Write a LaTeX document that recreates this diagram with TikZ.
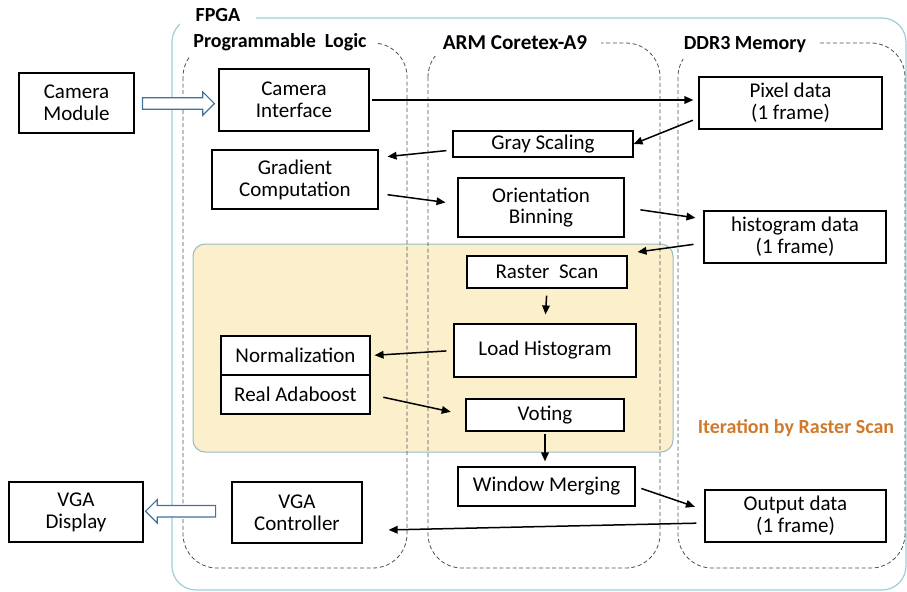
\documentclass[tikz,border=0pt]{standalone}
\usepackage{fontspec}
\setmainfont{Carlito}
\usepackage{tikz}
\usetikzlibrary{arrows.meta, calc, shapes.arrows}

\definecolor{fpgablue}{RGB}{160,203,218}
\definecolor{loopfill}{RGB}{252,240,204}
\definecolor{loopline}{RGB}{150,186,196}
\definecolor{regiongray}{RGB}{70,80,95}
\definecolor{blockblue}{RGB}{65,113,156}
\definecolor{iterorange}{RGB}{208,122,46}

\tikzset{
    box/.style={draw, line width=0.6pt, fill=white, align=center, inner sep=0pt,
        font=\fontsize{10.5}{10.9}\selectfont},
    region/.style={draw=regiongray, line width=0.4pt, dash pattern=on 2pt off 1.3pt,
        rounded corners=17pt},
    title/.style={fill=white, inner ysep=3pt, font=\bfseries\fontsize{10}{12}\selectfont},
    arr/.style={line width=0.75pt, -{Triangle[length=4.5pt,width=3.8pt]}},
    bigarrow/.style={single arrow, draw=blockblue, fill=white, line width=0.6pt,
        inner sep=2.6pt, single arrow head extend=2.9pt, minimum height=36pt}
}

\begin{document}
\begin{tikzpicture}[x=0.5pt, y=-0.5pt]
            \useasboundingbox (0,0) rectangle (907,591);
            % FPGA frame and the loop area
            \draw[fpgablue, line width=0.6pt, rounded corners=12pt] (172,18) rectangle (906,590);
            \draw[loopline, fill=loopfill, line width=0.5pt, rounded corners=6pt] (193,244) rectangle (673,452);
            \draw[region] (183,43) rectangle (407,568);
            \draw[region] (428,43) rectangle (660,568);
            \draw[region] (678,43) rectangle (905,568);
            \node (fpga) at (218,15) [title, inner xsep=8pt] {FPGA};
            \node (pl) at (280,42) [title, inner xsep=5pt] {Programmable\ \ Logic};
            \node (arm) at (515,43) [title, inner xsep=7pt, font=\bfseries\fontsize{10.6}{12}\selectfont] {ARM Coretex-A9};
            \node (ddr) at (745,45) [title, inner xsep=6pt] {DDR3 Memory};
            \node (iter) at (796,428) [font=\bfseries\fontsize{10}{12}\selectfont, text=iterorange] {Iteration by Raster Scan};

            % blocks
            \node (cam) at (76.5,103) [box, minimum width=57.5pt, minimum height=30pt] {Camera\\Module};
            \node (camif) at (294,100) [box, minimum width=75pt, minimum height=31pt] {Camera\\Interface};
            \node (pix) at (790.5,103) [box, minimum width=91.5pt, minimum height=26pt] {Pixel data\\(1 frame)};
            \node (gray) at (543,144) [box, minimum width=90pt, minimum height=13pt] {Gray Scaling};
            \node (grad) at (295,179.5) [box, minimum width=83pt, minimum height=29.5pt] {Gradient\\Computation};
            \node (orient) at (541,207.5) [box, minimum width=83pt, minimum height=29.5pt] {Orientation\\Binning};
            \node (hist) at (795,237) [box, minimum width=91pt, minimum height=26pt] {histogram data\\(1 frame)};
            \node (raster) at (547,272) [box, minimum width=80pt, minimum height=16pt] {Raster\ \ Scan};
            \node (load) at (545,350.5) [box, minimum width=91pt, minimum height=26.5pt] {Load Histogram};
            \node (norm) at (295.5,355.5) [box, minimum width=74.5pt, minimum height=19.5pt] {Normalization};
            \node (ada) at (295.5,394.5) [box, minimum width=74.5pt, minimum height=19.5pt] {Real Adaboost};
            \node (vote) at (545,415) [box, minimum width=79pt, minimum height=16pt] {Voting};
            \node (merge) at (546.5,486.5) [box, minimum width=88.5pt, minimum height=19.5pt] {Window Merging};
            \node (out) at (795.5,516) [box, minimum width=90.5pt, minimum height=26pt] {Output data\\(1 frame)};
            \node (vgadisp) at (76,512) [box, minimum width=67pt, minimum height=30pt] {VGA\\Display};
            \node (vgactl) at (297,512.5) [box, minimum width=65pt, minimum height=30.5pt] {VGA\\Controller};

            % block arrows
            \node (camarrow) at ($(cam.east)!0.5!(camif.west)+(-1,2)$) [bigarrow] {};
            \node (vgaarrow) at ($(vgactl.west)!0.5!(vgadisp.east)+(-4,-1)$) [bigarrow, shape border rotate=180, minimum height=35pt] {};

            % data flow
            \draw[arr, shorten <=1pt, shorten >=2.5pt] (camif.east) -- (camif.east -| pix.west);
            \draw[arr, shorten <=3pt] ([yshift=-7.5pt]pix.west) -- (gray.east);
            \draw[arr, shorten <=3pt, shorten >=4.5pt] ([yshift=-3pt]gray.west) -- ([yshift=11pt]grad.east);
            \draw[arr, shorten <=4.5pt, shorten >=6pt] ([yshift=-7pt]grad.east) -- ([yshift=1.75pt]orient.west);
            \draw[arr, shorten <=8pt, shorten >=4pt] (orient.east) -- ([yshift=9pt]hist.west);
            \draw[arr, shorten <=5pt, shorten >=5pt] ([yshift=-3pt]hist.west) -- ([yshift=1pt]raster.north east);
            \draw[arr, shorten <=3.5pt, shorten >=4.5pt] (raster.south) -- (load.north);
            \draw[arr, shorten <=3.5pt, shorten >=2pt] (load.west) -- (norm.east);
            \draw[arr, shorten <=6.5pt, shorten >=7.5pt] (ada.east) -- (vote.west);
            \draw[arr, shorten <=1pt, shorten >=2.5pt] (vote.south) -- (vote.south |- merge.north);
            \draw[arr, shorten <=3pt, shorten >=5pt] (merge.east) -- ([yshift=3pt]out.west);
            \draw[arr, shorten <=4pt, shorten >=13pt] ([yshift=-3.5pt]out.west) -- ([yshift=-9pt]vgactl.east);
        \end{tikzpicture}
\end{document}
